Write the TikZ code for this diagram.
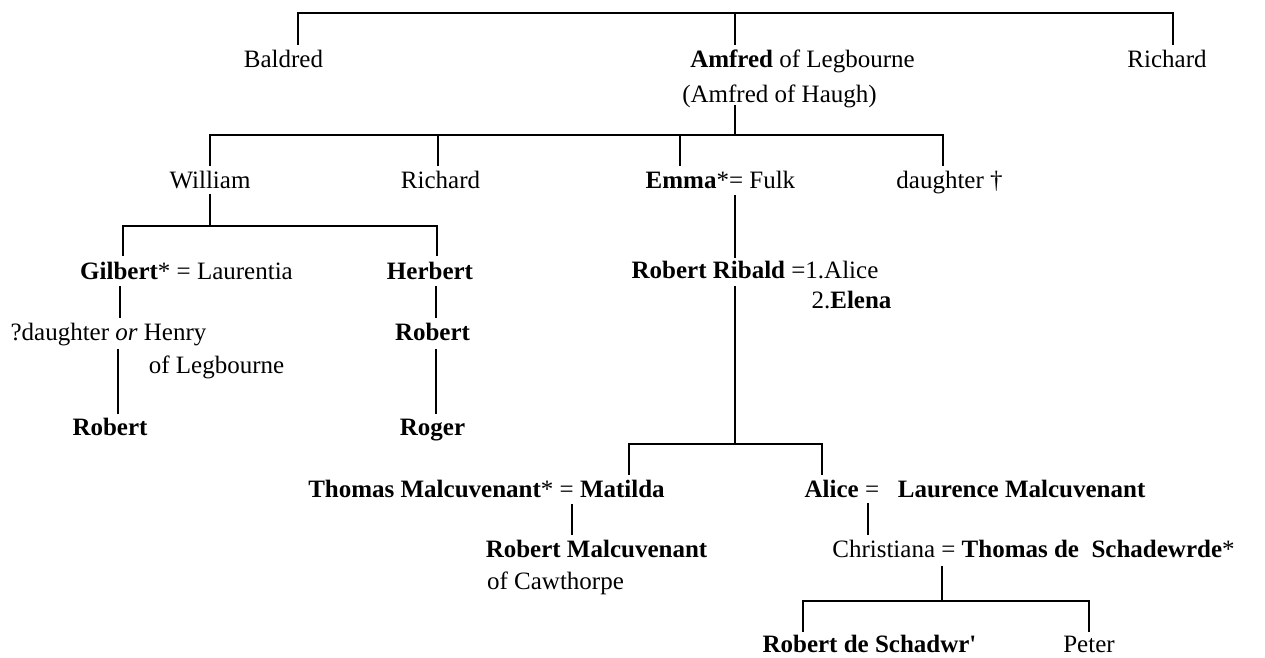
\documentclass[tikz,border=0pt]{standalone}
\usepackage{fontspec}
\setmainfont{Liberation Serif}
\begin{document}
\begin{tikzpicture}[x=1pt,y=-1pt,
  txt/.style={inner sep=0pt,anchor=base,font=\fontsize{25}{30}\selectfont},
  ln/.style={line width=2.2pt,line cap=rect}]
\useasboundingbox (0,0) rectangle (1265,657);
% ---- text nodes ----
\node[txt] (baldred) at (283.5,67) {Baldred};
\node[txt] (amfred) at (802.5,67) {\textbf{Amfred} of Legbourne};
\node[txt] (amfredb) at (779.5,102) {(Amfred of Haugh)};
\node[txt] (richardA) at (1167,67) {Richard};
\node[txt] (william) at (210,188) {William};
\node[txt] (richardB) at (440.5,188) {Richard};
\node[txt] (emma) at (720.5,188) {\textbf{Emma}*= Fulk};
\node[txt] (daughterA) at (949.5,188) {daughter †};
\node[txt] (gilbert) at (186.5,279) {\textbf{Gilbert}* = Laurentia};
\node[txt] (daughterB) at (108.5,340) {?daughter \textit{or} Henry};
\node[txt] (legb) at (216.5,373) {of Legbourne};
\node[txt] (robertA) at (110,435) {\textbf{Robert}};
\node[txt] (herbert) at (430,279) {\textbf{Herbert}};
\node[txt] (robertB) at (432.5,340) {\textbf{Robert}};
\node[txt] (roger) at (432.5,435) {\textbf{Roger}};
\node[txt] (ribald) at (755,278) {\textbf{Robert Ribald} =1.Alice};
\node[txt] (elena) at (851.5,308) {2.\textbf{Elena}};
\node[txt] (thomas) at (486.5,497) {\textbf{Thomas Malcuvenant}* = \textbf{Matilda}};
\node[txt] (robertM) at (596.5,557) {\textbf{Robert Malcuvenant}};
\node[txt] (cawth) at (555.5,589) {of Cawthorpe};
\node[txt] (alice) at (975,497) {\textbf{Alice} =\ \ \ \textbf{Laurence Malcuvenant}};
\node[txt] (christiana) at (1033.5,557) {Christiana = \textbf{Thomas de\ \ Schadewrde}*};
\node[txt] (robertS) at (869.5,652) {\textbf{Robert de Schadwr\textquotesingle}};
\node[txt] (peter) at (1089,652) {Peter};
% ---- connector points ----
\coordinate (pBal) at (298,44);
\coordinate (pAmT) at (735,44);
\coordinate (pRiA) at (1173,44);
\coordinate (top) at (735,13);
\coordinate (pAmB) at (735,106);
\coordinate (g2) at (735,135);
\coordinate (pWil) at (210,165);
\coordinate (pRiB) at (438,165);
\coordinate (pEmT) at (680,165);
\coordinate (pDaA) at (943,165);
\coordinate (pWilB) at (210,195);
\coordinate (g3) at (210,226);
\coordinate (pGil) at (123,255);
\coordinate (pHer) at (437,255);
\coordinate (pGilB) at (120,287);
\coordinate (pDaB) at (120,317);
\coordinate (pDaBb) at (118,350);
\coordinate (pRobA) at (118,413);
\coordinate (pHerB) at (436,287);
\coordinate (pRobB) at (436,317);
\coordinate (pRobBb) at (436,350);
\coordinate (pRog) at (436,413);
\coordinate (pEmB) at (735,196);
\coordinate (pRibT) at (735,257);
\coordinate (pRibB) at (735,287);
\coordinate (g4) at (735,444);
\coordinate (pTho) at (629,474);
\coordinate (pAli) at (822,474);
\coordinate (pThoB) at (572,505);
\coordinate (pRobM) at (572,534);
\coordinate (pAliB) at (868,504);
\coordinate (pChr) at (868,534);
\coordinate (pChrB) at (942,567);
\coordinate (g5) at (942,601);
\coordinate (pRobS) at (803,631);
\coordinate (pPet) at (1089,631);
% ---- connectors ----
\draw[ln] (pBal) |- (top) -| (pRiA);
\draw[ln] (top) -- (pAmT);
\draw[ln] (pAmB) -- (g2);
\draw[ln] (pWil) |- (g2) -| (pDaA);
\draw[ln] (pRiB) -- (pRiB |- g2);
\draw[ln] (pEmT) -- (pEmT |- g2);
\draw[ln] (pWilB) -- (g3);
\draw[ln] (pGil) |- (g3) -| (pHer);
\draw[ln] (pGilB) -- (pDaB);
\draw[ln] (pDaBb) -- (pRobA);
\draw[ln] (pHerB) -- (pRobB);
\draw[ln] (pRobBb) -- (pRog);
\draw[ln] (pEmB) -- (pRibT);
\draw[ln] (pRibB) -- (g4);
\draw[ln] (pTho) |- (g4) -| (pAli);
\draw[ln] (pThoB) -- (pRobM);
\draw[ln] (pAliB) -- (pChr);
\draw[ln] (pChrB) -- (g5);
\draw[ln] (pRobS) |- (g5) -| (pPet);
\end{tikzpicture}
\end{document}
